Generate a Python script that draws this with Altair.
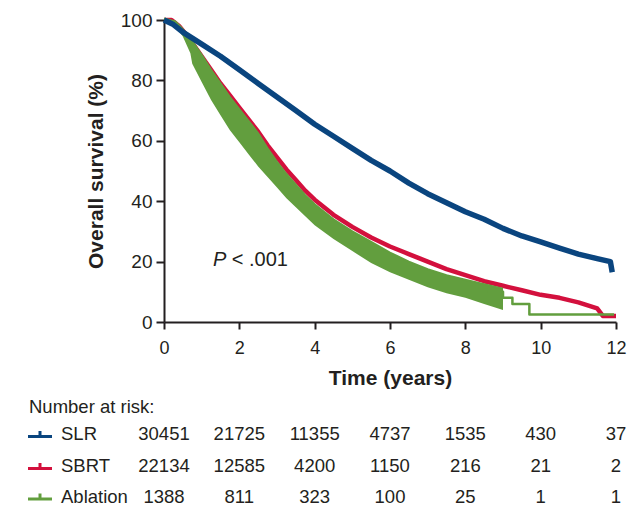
import altair as alt
import pandas as pd

# ---------------- data ----------------
slr_t = [0, 0.25, 0.5, 0.75, 1, 1.5, 2, 2.5, 3, 3.5, 4, 4.5, 5, 5.5, 6, 6.5, 7, 7.5,
         8, 8.5, 9, 9.5, 10, 10.5, 11, 11.5, 11.85, 11.9]
slr_s = [100, 98.5, 96, 94, 92, 88, 83.5, 79, 74.5, 70, 65.5, 61.5, 57.5, 53.5, 50, 46,
         42.5, 39.5, 36.5, 34, 31, 28.5, 26.5, 24.5, 22.5, 21, 20, 16.5]

sbrt_t = [0, 0.2, 0.4, 0.6, 0.8, 1.0, 1.25, 1.5, 1.75, 2.0, 2.25, 2.5, 2.75, 3.0, 3.25,
          3.5, 3.75, 4.0, 4.5, 5.0, 5.5, 6.0, 6.5, 7.0, 7.5, 8.0, 8.5, 9.0, 9.5, 10,
          10.5, 11, 11.5, 11.65, 12]
sbrt_s = [100, 100, 98, 95, 91.5, 88, 83.5, 79, 75, 71, 67, 63, 58.5, 54.5, 50.5,
          47, 43.5, 40.5, 35.5, 31.5, 28, 25, 22.5, 20, 17.5, 15.5, 13.5, 12, 10.5, 9,
          8, 6.5, 4.5, 2, 2]

abl_t = [0, 0.3, 0.5, 0.7, 0.75, 1.0, 1.25, 1.5, 1.75, 2.0, 2.25, 2.5, 2.75, 3.0, 3.25,
         3.5, 3.75, 4.0, 4.5, 5.0, 5.5, 6.0, 6.5, 7.0, 7.5, 8.0, 8.5, 9.0]
abl_upper = [100.5, 99.5, 97, 94, 93, 88.5, 83.5, 79, 74.5, 70.5, 66.5, 62.5, 57.5, 53, 49,
             45.5, 42, 39, 34, 30, 26.5, 23, 20, 17.5, 15.5, 14, 12.5, 11]
abl_lower = [99.5, 98, 94.5, 89, 85.5, 79.5, 73.5, 68.5, 63.5, 59.5, 55.5, 51.5, 48, 44.5, 41,
             38, 35, 32, 27.5, 23.5, 19.5, 16.5, 14, 11.5, 9.5, 8, 6, 4]
abl_tail_t = [8.6, 9.0, 9.25, 9.7, 11.95]
abl_tail_s = [10, 8, 6, 2.5, 2.5]

groups = ["SLR", "SBRT", "Ablation"]
risk_times = [0, 2, 4, 6, 8, 10, 12]
slr_risk = [30451, 21725, 11355, 4737, 1535, 430, 37]
sbrt_risk = [22134, 12585, 4200, 1150, 216, 21, 2]
abl_risk = [1388, 811, 323, 100, 25, 1, 1]

# ---------------- styles ----------------
FONT = "Liberation Sans"
INK = "#231f20"
BLUE = "#0a457f"
RED = "#d3103d"
GREEN = "#629e3e"
W, H = 452, 302
ROW_Y = [414, 446, 476.5]
HEADER_Y = 386.5

x_scale = alt.Scale(domain=[0, 12], nice=False, zero=False)
y_scale = alt.Scale(domain=[0, 100], nice=False)

x_axis = alt.Axis(values=list(range(0, 13, 2)), title="Time (years)", grid=False,
                  labelFont=FONT, titleFont=FONT, labelFontSize=18, titleFontSize=21,
                  titleFontWeight="bold", labelColor=INK, titleColor=INK,
                  tickSize=7, tickWidth=2, tickColor=INK, domainWidth=2, domainColor=INK,
                  labelPadding=10, titlePadding=10, labelFlush=False)
y_axis = alt.Axis(values=list(range(0, 101, 20)), title="Overall survival (%)", grid=False,
                  labelFont=FONT, titleFont=FONT, labelFontSize=19, titleFontSize=21,
                  titleFontWeight="bold", labelColor=INK, titleColor=INK,
                  tickSize=8, tickWidth=2, tickColor=INK, domainWidth=2, domainColor=INK,
                  labelPadding=4, titlePadding=14)


def X(field):
    return alt.X(field, type="quantitative", scale=x_scale, axis=x_axis)


def Y(field):
    return alt.Y(field, type="quantitative", scale=y_scale, axis=y_axis)


def curve(t, s, color, width, interp="linear"):
    df = pd.DataFrame({"t": t, "s": s})
    return alt.Chart(df).mark_line(color=color, strokeWidth=width, interpolate=interp,
                                   strokeJoin="round").encode(x=X("t"), y=Y("s"))


band = alt.Chart(pd.DataFrame({"t": abl_t, "u": abl_upper, "l": abl_lower})).mark_area(
    color=GREEN, opacity=1, line={"color": GREEN, "strokeWidth": 2}
).encode(x=X("t"), y=Y("u"), y2="l")

red_line = curve(sbrt_t, sbrt_s, RED, 4.5)
green_tail = curve(abl_tail_t, abl_tail_s, GREEN, 2.5, "step-after")
blue_line = curve(slr_t, slr_s, BLUE, 5.5)

p_df = pd.DataFrame({"t": [1.3], "s": [20.5], "a": ["P"], "b": ["< .001"], "t2": [1.8]})
p_text = alt.Chart(p_df).mark_text(font=FONT, fontSize=20, fontStyle="italic", color=INK,
                                   align="left", baseline="middle").encode(
    x=X("t"), y=Y("s"), text="a:N")
p_text2 = alt.Chart(p_df).mark_text(font=FONT, fontSize=20, color=INK,
                                    align="left", baseline="middle").encode(
    x=X("t2"), y=Y("s"), text="b:N")

# ---------------- number-at-risk table ----------------
header = alt.Chart(pd.DataFrame({"txt": ["Number at risk:"]})).mark_text(
    font=FONT, fontSize=18.5, color=INK, align="left", baseline="middle"
).encode(x=alt.value(-135), y=alt.value(HEADER_Y), text="txt:N")

table_layers = []
for name, counts, color, ry in zip(groups, [slr_risk, sbrt_risk, abl_risk],
                                   [BLUE, RED, GREEN], ROW_Y):
    one = pd.DataFrame({"g": [name]})
    table_layers.append(alt.Chart(one).mark_rule(color=color, strokeWidth=3).encode(
        x=alt.value(-136), x2=alt.value(-112), y=alt.value(ry + 2.5)))
    table_layers.append(alt.Chart(one).mark_rule(color=color, strokeWidth=3).encode(
        x=alt.value(-124), y=alt.value(ry - 3), y2=alt.value(ry + 2.5)))
    table_layers.append(alt.Chart(one).mark_text(
        font=FONT, fontSize=18.5, color=INK, align="left", baseline="middle"
    ).encode(x=alt.value(-103), y=alt.value(ry), text="g:N"))
    cdf = pd.DataFrame({"t": risk_times, "n": [str(c) for c in counts]})
    table_layers.append(alt.Chart(cdf).mark_text(
        font=FONT, fontSize=18.5, color=INK, align="center", baseline="middle"
    ).encode(x=X("t"), y=alt.value(ry), text="n:N"))

chart = alt.layer(
    red_line, band, green_tail, blue_line, p_text, p_text2, header, *table_layers
).properties(
    width=W, height=H,
    autosize=alt.AutoSizeParams(type="none"),
    padding={"left": 164, "top": 20, "right": 22, "bottom": 184},
    background="white",
).configure_view(stroke=None)

chart.save("out.html", embed_options={"renderer": "svg", "actions": False})
